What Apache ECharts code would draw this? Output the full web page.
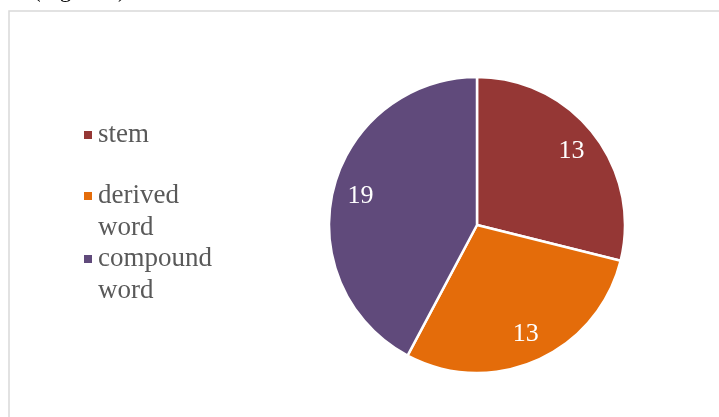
<!DOCTYPE html>
<html>
<head>
<meta charset="utf-8">
<script src="https://cdn.jsdelivr.net/npm/echarts@6/dist/echarts.min.js"></script>
<style>html,body{margin:0;padding:0;background:#fff}#c{width:719px;height:417px}</style>
</head>
<body>
<div id="c"></div>
<script>
const categories = ['stem', 'derived word', 'compound word'];
const values = [13, 13, 19];
const colors = ['#953735', '#E46C0A', '#604A7B'];
const legendLabels = ['stem', 'derived\nword', 'compound\nword'];

const chart = echarts.init(document.getElementById('c'), null, {renderer: 'canvas'});
const serif = '"Liberation Serif", "Times New Roman", serif';
const data = categories.map((n, i) => ({name: n, value: values[i], itemStyle: {color: colors[i]}}));
const legendCenters = [135, 196, 259];
const legends = categories.map((n, i) => {
  const twoLine = legendLabels[i].indexOf('\n') >= 0;
  return {
    orient: 'vertical', left: 82, top: legendCenters[i] - (twoLine ? 48 : 16), padding: 0,
    data: [n], icon: 'rect', itemWidth: 10, itemHeight: 10, itemGap: 0,
    formatter: () => (twoLine ? '\n' : '') + legendLabels[i],
    textStyle: {fontFamily: serif, fontSize: 27, color: '#595959', lineHeight: 32},
    selectedMode: false
  };
});
chart.setOption({
  animation: false,
  backgroundColor: '#fff',
  graphic: [
    {type: 'rect', shape: {x: 9, y: 11, width: 800, height: 500}, style: {fill: 'none', stroke: '#d9d9d9', lineWidth: 1.5}, silent: true},
    {type: 'text', x: 33, y: 2, style: {text: '(Figure 3)', font: '23px ' + serif, fill: '#000', textVerticalAlign: 'bottom'}, silent: true}
  ],
  legend: legends,
  series: [
    {
      type: 'pie', center: [477, 225], radius: 148, startAngle: 90, clockwise: true,
      data: data, label: {show: false}, labelLine: {show: false},
      itemStyle: {borderColor: '#fff', borderWidth: 2.5}, emphasis: {disabled: true}
    },
    {
      type: 'pie', center: [477, 225], radius: [86, 148], startAngle: 90, clockwise: true,
      data: categories.map((n, i) => ({name: n, value: values[i], itemStyle: {color: 'rgba(0,0,0,0)'}})),
      label: {show: true, position: 'inside', formatter: '{c}', fontFamily: serif, fontSize: 26, color: '#fff'},
      labelLine: {show: false}, silent: true, emphasis: {disabled: true}
    }
  ]
});
</script>
</body>
</html>
